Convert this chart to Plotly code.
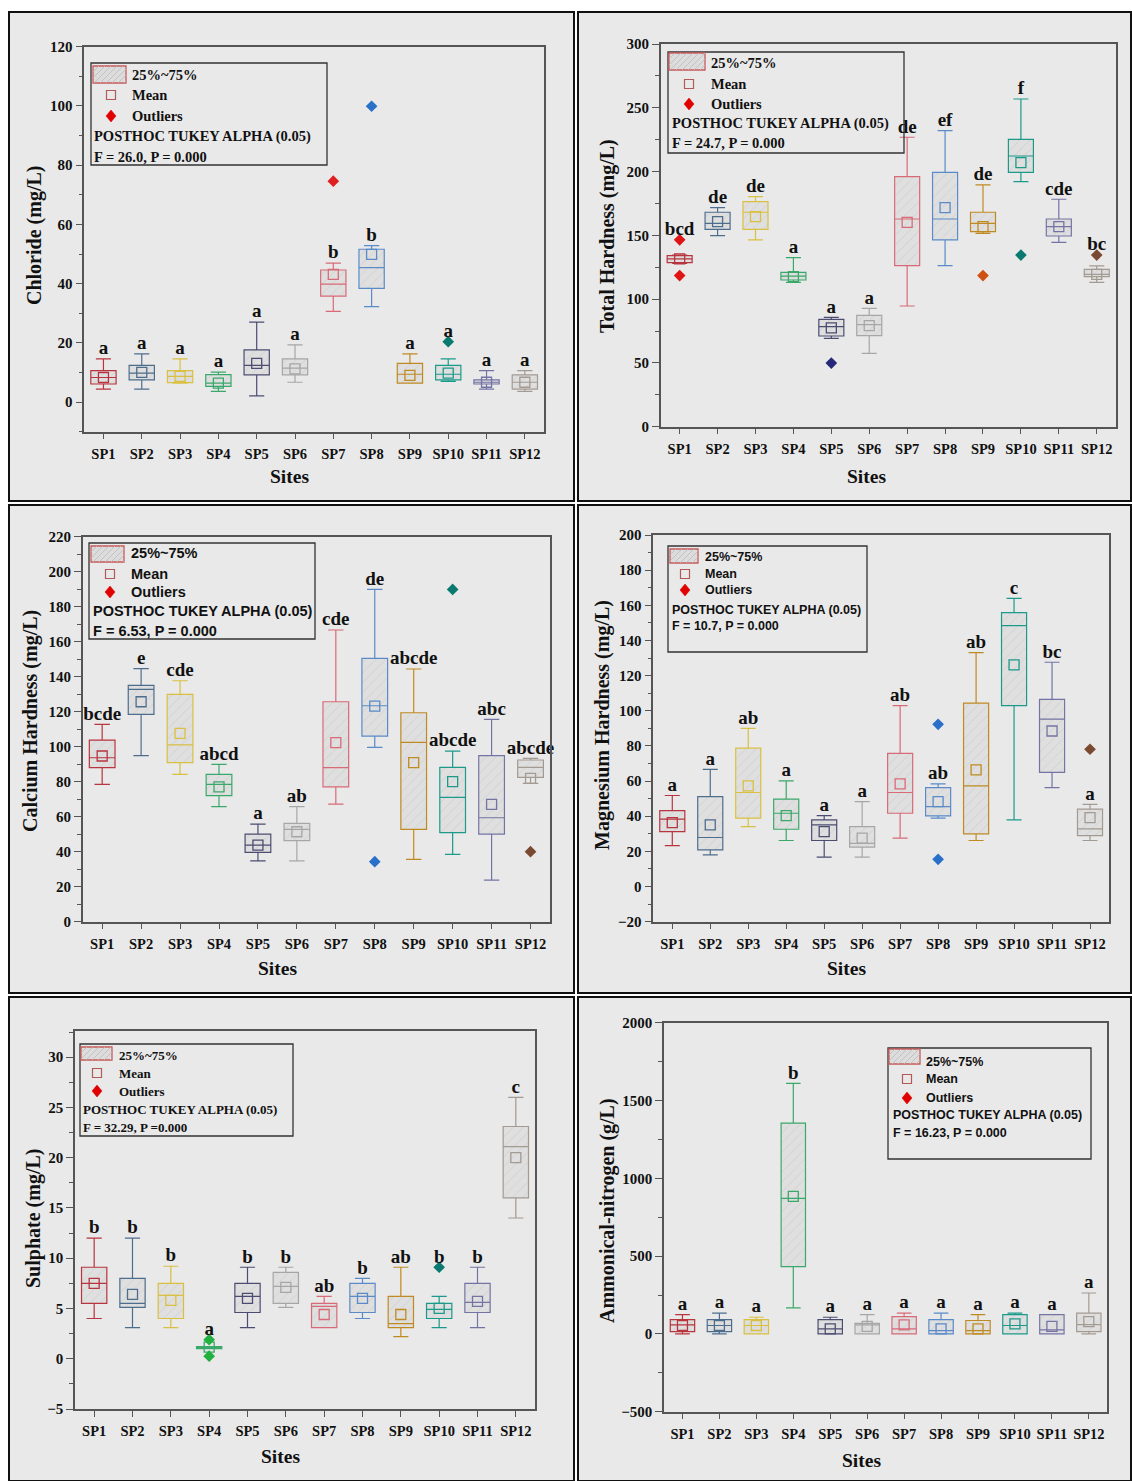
import plotly.graph_objects as go

W, H = 1132, 1481

sites = ["SP1", "SP2", "SP3", "SP4", "SP5", "SP6", "SP7", "SP8", "SP9", "SP10", "SP11", "SP12"]
box_colors = ["#b8343e", "#4d6d8c", "#d9c040", "#3aa86a", "#4c4c72", "#a6a6a6",
              "#d86a78", "#5a8ac8", "#c08a22", "#1b9a8a", "#7474a4", "#a39a92"]
outlier_colors = ["#e01414", "#3c6a8c", "#d9c040", "#22b040", "#26287a", "#a6a6a6",
                  "#e02020", "#2a70c8", "#d05010", "#0a7a70", "#6a6a9a", "#7a4a30"]

# ---------------- Chloride (mg/L) ----------------
cl_low = [4.4, 4.4, 6.4, 3.6, 2.1, 6.7, 30.6, 32.2, 6.4, 7.0, 4.4, 3.6]
cl_q1 = [6.1, 7.5, 6.6, 5.3, 9.2, 9.2, 35.8, 38.4, 6.4, 7.5, 6.1, 4.4]
cl_med = [8.3, 9.8, 8.7, 6.4, 12.4, 11.5, 39.8, 45.4, 9.4, 9.4, 6.7, 6.7]
cl_q3 = [10.6, 12.4, 10.6, 9.3, 17.6, 14.6, 44.6, 51.6, 13.1, 12.4, 7.5, 9.2]
cl_high = [14.6, 16.3, 14.6, 10.1, 27.0, 19.3, 46.9, 52.8, 16.3, 14.6, 10.6, 10.6]
cl_mean = [8.3, 10.0, 8.7, 6.4, 13.1, 11.2, 43.1, 49.9, 9.0, 9.8, 6.7, 6.7]
cl_letters = ["a", "a", "a", "a", "a", "a", "b", "b", "a", "a", "a", "a"]
cl_out_sites = ["SP7", "SP8", "SP10"]
cl_out_vals = [74.6, 99.9, 20.4]

# ---------------- Total Hardness (mg/L) ----------------
th_low = [128.0, 149.8, 146.4, 113.2, 69.3, 57.5, 94.6, 126.2, 151.6, 192.1, 144.5, 113.2]
th_q1 = [128.6, 154.7, 154.7, 115.0, 71.1, 71.4, 126.2, 146.4, 152.9, 199.4, 149.5, 117.6]
th_med = [131.5, 159.4, 168.1, 118.1, 78.4, 80.0, 162.8, 162.8, 159.4, 212.2, 156.8, 119.4]
th_q3 = [134.1, 168.1, 176.4, 121.0, 84.2, 87.3, 196.0, 199.4, 168.1, 225.3, 162.8, 123.4]
th_high = [134.6, 171.7, 180.3, 132.5, 85.7, 92.8, 226.9, 232.1, 189.5, 256.9, 178.3, 126.0]
th_mean = [131.5, 160.7, 164.7, 117.6, 77.5, 79.2, 160.2, 171.7, 156.8, 207.0, 156.8, 119.4]
th_letters = ["bcd", "de", "de", "a", "a", "a", "de", "ef", "de", "f", "cde", "bc"]
th_out_sites = ["SP1", "SP1", "SP5", "SP9", "SP10", "SP12"]
th_out_vals = [146.5, 118.5, 49.9, 118.5, 134.5, 134.5]

# ---------------- Calcium Hardness (mg/L) ----------------
ca_low = [78.5, 94.9, 84.2, 65.7, 34.7, 34.7, 67.2, 99.6, 35.6, 38.5, 23.8, 79.0]
ca_q1 = [88.0, 118.5, 90.9, 72.0, 39.6, 46.3, 77.1, 106.1, 52.8, 50.9, 50.1, 82.5]
ca_med = [93.7, 132.8, 101.0, 78.5, 43.8, 52.8, 88.0, 123.4, 102.5, 71.0, 59.4, 88.2]
ca_q3 = [103.8, 135.0, 129.9, 84.2, 50.1, 56.2, 125.7, 150.5, 119.4, 88.2, 94.9, 92.4]
ca_high = [112.8, 144.6, 137.7, 89.9, 55.8, 65.7, 166.7, 189.9, 144.4, 97.5, 115.6, 93.3]
ca_mean = [94.7, 125.7, 107.6, 77.1, 43.8, 51.4, 102.3, 123.2, 90.9, 80.0, 67.0, 81.9]
ca_letters = ["bcde", "e", "cde", "abcd", "a", "ab", "cde", "de", "abcde", "abcde", "abc", "abcde"]
ca_out_sites = ["SP8", "SP10", "SP12"]
ca_out_vals = [34.3, 189.9, 40.0]

# ---------------- Magnesium Hardness (mg/L) ----------------
mg_low = [23.3, 18.0, 34.1, 26.2, 16.7, 16.7, 27.5, 38.9, 26.2, 37.9, 56.3, 26.2]
mg_q1 = [31.3, 20.9, 38.9, 32.6, 26.2, 22.4, 41.7, 40.2, 30.0, 102.9, 65.0, 29.0]
mg_med = [38.3, 27.9, 53.5, 41.7, 35.1, 24.6, 53.5, 45.5, 57.3, 148.4, 95.2, 32.8]
mg_q3 = [43.2, 51.2, 78.7, 49.7, 37.9, 34.1, 75.8, 56.3, 104.3, 155.8, 106.5, 44.0]
mg_high = [51.8, 66.7, 90.0, 60.1, 40.4, 48.3, 102.9, 58.4, 133.1, 164.0, 127.6, 46.8]
mg_mean = [36.4, 35.1, 57.3, 40.4, 31.3, 27.5, 58.4, 48.3, 66.4, 126.1, 88.5, 39.2]
mg_letters = ["a", "a", "ab", "a", "a", "a", "ab", "ab", "ab", "c", "bc", "a"]
mg_out_sites = ["SP8", "SP8", "SP12"]
mg_out_vals = [92.3, 15.5, 78.1]

# ---------------- Sulphate (mg/L) ----------------
so_low = [4.0, 3.1, 3.1, 1.0, 3.1, 5.1, 3.1, 4.0, 2.2, 3.1, 3.1, 14.0]
so_q1 = [5.5, 5.1, 4.0, 1.0, 4.6, 5.5, 3.1, 4.6, 3.1, 4.0, 4.6, 16.0]
so_med = [7.5, 5.5, 6.3, 1.1, 6.2, 7.2, 5.2, 6.2, 3.5, 4.9, 5.6, 21.1]
so_q3 = [9.1, 8.0, 7.5, 1.2, 7.5, 8.6, 5.5, 7.5, 6.2, 5.5, 7.5, 23.1]
so_high = [12.0, 12.0, 9.2, 1.2, 9.1, 9.1, 6.2, 8.0, 9.1, 6.2, 9.1, 26.0]
so_mean = [7.5, 6.4, 5.8, 1.15, 6.0, 7.1, 4.4, 6.0, 4.4, 5.0, 5.7, 20.0]
so_letters = ["b", "b", "b", "a", "b", "b", "ab", "b", "ab", "b", "b", "c"]
so_out_sites = ["SP4", "SP4", "SP10"]
so_out_vals = [1.9, 0.25, 9.1]

# ---------------- Ammonical-nitrogen (g/L) ----------------
an_low = [0, 0, 0, 167, 0, 0, 0, 0, 0, 0, 0, 0]
an_q1 = [15, 15, 0, 432, 0, 0, 0, 0, 0, 0, 0, 15]
an_med = [58, 54, 54, 871, 32, 58, 32, 21, 21, 54, 26, 60]
an_q3 = [92, 92, 92, 1355, 92, 68, 111, 92, 86, 124, 124, 133]
an_high = [124, 133, 107, 1610, 107, 124, 133, 133, 124, 133, 124, 263]
an_mean = [54, 54, 54, 884, 32, 49, 58, 32, 32, 64, 49, 79]
an_letters = ["a", "a", "a", "b", "a", "a", "a", "a", "a", "a", "a", "a"]
an_out_sites = []
an_out_vals = []

SERIF = "Liberation Serif"
SANS = "Liberation Sans"

panels = [
    dict(d=(cl_low, cl_q1, cl_med, cl_q3, cl_high, cl_mean, cl_letters, cl_out_sites, cl_out_vals),
         frame=(9, 12, 574, 501), plot=(84.3, 46.7, 544, 431.7), yr=[-10, 120], dtick=20, minor=10,
         ytitle="Chloride (mg/L)", yt=(35, 236), st=(289, 476), F="F = 26.0, P = 0.000",
         leg=dict(box=(91, 63, 327, 165), sw=(93, 66, 126, 83), lx=130, rows=[75, 95, 116, 136, 157], mx=111, px=92,
                  font=SERIF, size=14.5)),
    dict(d=(th_low, th_q1, th_med, th_q3, th_high, th_mean, th_letters, th_out_sites, th_out_vals),
         frame=(578, 12, 1131, 501), plot=(660.7, 44, 1115.7, 426.7), yr=[0, 300], dtick=50, minor=25,
         ytitle="Total Hardness (mg/L)", yt=(608, 236), st=(866, 476), F="F = 24.7, P = 0.000",
         leg=dict(box=(668, 52, 904, 153), sw=(669, 53, 705, 70), lx=709, rows=[63, 84, 104, 123, 143], mx=689, px=670,
                  font=SERIF, size=14.5)),
    dict(d=(ca_low, ca_q1, ca_med, ca_q3, ca_high, ca_mean, ca_letters, ca_out_sites, ca_out_vals),
         frame=(9, 505, 574, 993), plot=(82.7, 536.7, 550, 921.7), yr=[0, 220], dtick=20, minor=10,
         ytitle="Calcium Hardness (mg/L)", yt=(30, 721), st=(277, 968), F="F = 6.53, P = 0.000",
         leg=dict(box=(89, 543, 315, 639), sw=(91, 546, 124, 562), lx=129, rows=[553, 574, 592, 611, 631], mx=110, px=91,
                  font=SANS, size=14.5)),
    dict(d=(mg_low, mg_q1, mg_med, mg_q3, mg_high, mg_mean, mg_letters, mg_out_sites, mg_out_vals),
         frame=(578, 505, 1131, 993), plot=(653.3, 535, 1109, 921.7), yr=[-20, 200], dtick=20, minor=10,
         ytitle="Magnesium Hardness (mg/L)", yt=(603, 725), st=(846, 968), F="F = 10.7, P = 0.000",
         leg=dict(box=(668, 546, 867, 652), sw=(670, 549, 698, 563), lx=703, rows=[557, 574, 590, 610, 626], mx=685, px=670,
                  font=SANS, size=12.5)),
    dict(d=(so_low, so_q1, so_med, so_q3, so_high, so_mean, so_letters, so_out_sites, so_out_vals),
         frame=(9, 997, 574, 1481), plot=(75, 1031, 535, 1409), yr=[-5, 32.6], dtick=5, minor=2.5,
         ytitle="Sulphate (mg/L)", yt=(33, 1219), st=(280, 1456), F="F = 32.29, P =0.000",
         leg=dict(box=(80, 1044, 293, 1136), sw=(81, 1047, 112, 1060), lx=117, rows=[1055, 1073, 1091, 1109, 1127], mx=97, px=81,
                  font=SERIF, size=13)),
    dict(d=(an_low, an_q1, an_med, an_q3, an_high, an_mean, an_letters, an_out_sites, an_out_vals),
         frame=(578, 997, 1131, 1481), plot=(664, 1022.7, 1107.3, 1411.7), yr=[-500, 2000], dtick=500, minor=250,
         ytitle="Ammonical-nitrogen (g/L)", yt=(607, 1211), st=(861, 1460), F="F = 16.23, P = 0.000",
         leg=dict(box=(888, 1048, 1091, 1159), sw=(889, 1049, 920, 1064), lx=924, rows=[1062, 1079, 1098, 1115, 1133], mx=907, px=891,
                  font=SANS, size=12.5)),
]


def fx(x):
    return x / W


def fy(y):
    return 1 - y / H


fig = go.Figure()
shapes = []
annotations = []
layout_axes = {}
BG = "#e9e9e9"
AX = "#555555"

for i, p in enumerate(panels):
    n = "" if i == 0 else str(i + 1)
    xa, ya = "x" + n, "y" + n
    low, q1, med, q3, high, mean, letters, osites, ovals = p["d"]

    # panel frame
    x0, y0, x1, y1 = p["frame"]
    shapes.append(dict(type="rect", xref="paper", yref="paper", x0=fx(x0), x1=fx(x1), y0=fy(y1), y1=fy(y0),
                       fillcolor=BG, line=dict(color="#111111", width=2), layer="below"))

    # hatched interquartile fill
    fig.add_trace(go.Bar(x=sites, y=[b - a for a, b in zip(q1, q3)], base=q1, width=0.66,
                         marker=dict(color="#dfdfdf", line=dict(width=0),
                                     pattern=dict(shape="/", fgcolor="#bcbcbc", size=7, solidity=0.12, fillmode="overlay")),
                         showlegend=False, hoverinfo="skip", xaxis=xa, yaxis=ya))
    # box outlines
    for k, s in enumerate(sites):
        fig.add_trace(go.Box(x=[s], q1=[q1[k]], median=[med[k]], q3=[q3[k]], lowerfence=[low[k]], upperfence=[high[k]],
                             width=0.66, whiskerwidth=0.6, boxpoints=False, fillcolor="rgba(0,0,0,0)",
                             line=dict(color=box_colors[k], width=1.2), showlegend=False, hoverinfo="skip",
                             xaxis=xa, yaxis=ya))
    # means
    fig.add_trace(go.Scatter(x=sites, y=mean, mode="markers",
                             marker=dict(symbol="square-open", size=10, color=box_colors, line=dict(width=1.3)),
                             showlegend=False, hoverinfo="skip", xaxis=xa, yaxis=ya))
    # outliers
    if osites:
        fig.add_trace(go.Scatter(x=osites, y=ovals, mode="markers",
                                 marker=dict(symbol="diamond", size=9,
                                             color=[outlier_colors[sites.index(s)] for s in osites]),
                                 showlegend=False, hoverinfo="skip", xaxis=xa, yaxis=ya))
    # significance letters
    span = p["yr"][1] - p["yr"][0]
    lpos = []
    for k, s in enumerate(sites):
        top = high[k]
        for os_, ov in zip(osites, ovals):
            if os_ == s and top < ov < top + 0.1 * span:
                top = ov
        lpos.append(top)
    fig.add_trace(go.Scatter(x=sites, y=lpos, mode="text", text=letters, textposition="top center",
                             textfont=dict(family=SERIF, size=19, color="#111111", weight="bold"),
                             showlegend=False, hoverinfo="skip", xaxis=xa, yaxis=ya, cliponaxis=False))

    px0, py0, px1, py1 = p["plot"]
    dom_x = [fx(px0), fx(px1)]
    dom_y = [fy(py1), fy(py0)]
    layout_axes["xaxis" + n] = dict(domain=dom_x, anchor=ya, type="category", range=[-0.5, 11.5],
                                    showline=True, linecolor=AX, linewidth=1.5, mirror=True, automargin=False,
                                    ticks="outside", ticklen=6, tickcolor=AX, showgrid=False, zeroline=False,
                                    ticklabelstandoff=2,
                                    tickfont=dict(family=SERIF, size=14.5, color="#111111", weight="bold"),
                                    fixedrange=True)
    layout_axes["yaxis" + n] = dict(domain=dom_y, anchor=xa, range=p["yr"], dtick=p["dtick"], automargin=False,
                                    tick0=0, showline=True, linecolor=AX, linewidth=1.5, mirror=True,
                                    ticks="outside", ticklen=7, tickcolor=AX, showgrid=False, zeroline=False,
                                    minor=dict(ticks="outside", ticklen=4, dtick=p["minor"], tick0=0, tickcolor=AX),
                                    tickfont=dict(family=SERIF, size=15, color="#111111", weight="bold"),
                                    fixedrange=True)
    # inward ticks on the top and right frame edges
    tn, rn = str(7 + i), str(13 + i)
    layout_axes["xaxis" + tn] = dict(overlaying=xa, anchor=ya, side="top", range=[-0.5, 11.5], automargin=False,
                                     tickvals=list(range(len(sites))), showticklabels=False, showline=False,
                                     ticks="inside", ticklen=6, tickcolor=AX, showgrid=False, zeroline=False,
                                     fixedrange=True)
    layout_axes["yaxis" + rn] = dict(overlaying=ya, anchor=xa, side="right", range=p["yr"], dtick=p["dtick"],
                                     tick0=0, showticklabels=False, showline=False, ticks="inside", ticklen=6,
                                     automargin=False, tickcolor=AX, showgrid=False, zeroline=False, fixedrange=True)

    # axis titles
    tx, ty = p["yt"]
    annotations.append(dict(xref="paper", yref="paper", x=fx(tx), y=fy(ty), text="<b>" + p["ytitle"] + "</b>",
                            textangle=-90, showarrow=False, xanchor="center", yanchor="middle",
                            font=dict(family=SERIF, size=20, color="#111111")))
    sx, sy = p["st"]
    annotations.append(dict(xref="paper", yref="paper", x=fx(sx), y=fy(sy), text="<b>Sites</b>",
                            showarrow=False, xanchor="center", yanchor="middle",
                            font=dict(family=SERIF, size=19.5, color="#111111")))

    # legend box
    L = p["leg"]
    bx0, by0, bx1, by1 = L["box"]
    shapes.append(dict(type="rect", xref="paper", yref="paper", x0=fx(bx0), x1=fx(bx1), y0=fy(by1), y1=fy(by0),
                       line=dict(color="#333333", width=1.3), fillcolor="rgba(0,0,0,0)", layer="above"))
    sx0, sy0, sx1, sy1 = L["sw"]
    shapes.append(dict(type="rect", xref="paper", yref="paper", x0=fx(sx0), x1=fx(sx1), y0=fy(sy1), y1=fy(sy0),
                       line=dict(color="#c85a5a", width=1.3), fillcolor="#dcdcdc", layer="above"))
    # hatch lines in swatch
    step = 6
    xs = sx0 - (sy1 - sy0)
    while xs < sx1:
        ax0, ay0 = xs, sy1
        ax1, ay1 = xs + (sy1 - sy0), sy0
        if ax0 < sx0:
            ay0 = sy1 - (sx0 - ax0)
            ax0 = sx0
        if ax1 > sx1:
            ay1 = sy0 + (ax1 - sx1)
            ax1 = sx1
        shapes.append(dict(type="line", xref="paper", yref="paper", x0=fx(ax0), y0=fy(ay0), x1=fx(ax1), y1=fy(ay1),
                           line=dict(color="#bdbdbd", width=0.8), layer="above"))
        xs += step
    mx = L["mx"]
    r = L["rows"]
    shapes.append(dict(type="rect", xref="paper", yref="paper", x0=fx(mx - 4.5), x1=fx(mx + 4.5),
                       y0=fy(r[1] + 4.5), y1=fy(r[1] - 4.5), line=dict(color="#b25a5a", width=1.2),
                       fillcolor="rgba(0,0,0,0)", layer="above"))
    shapes.append(dict(type="path", xref="paper", yref="paper",
                       path="M {} {} L {} {} L {} {} L {} {} Z".format(fx(mx), fy(r[2] - 6), fx(mx + 5), fy(r[2]),
                                                                     fx(mx), fy(r[2] + 6), fx(mx - 5), fy(r[2])),
                       line=dict(color="#e00000", width=0.5), fillcolor="#e00000", layer="above"))
    lf = dict(family=L["font"], size=L["size"], color="#111111")
    for txt, xx, yy in [("25%~75%", L["lx"], r[0]), ("Mean", L["lx"], r[1]), ("Outliers", L["lx"], r[2]),
                        ("POSTHOC TUKEY ALPHA (0.05)", L["px"], r[3]), (p["F"], L["px"], r[4])]:
        annotations.append(dict(xref="paper", yref="paper", x=fx(xx), y=fy(yy), text="<b>" + txt + "</b>",
                                showarrow=False, xanchor="left", yanchor="middle", font=lf))

fig.update_layout(width=W, height=H, autosize=False,
                  margin=dict(l=0, r=0, t=0, b=0, pad=0, autoexpand=False), paper_bgcolor="white",
                  plot_bgcolor="rgba(0,0,0,0)", barmode="overlay", boxmode="overlay",
                  shapes=shapes, annotations=annotations, showlegend=False, **layout_axes)

fig.write_html("out.html", config=dict(displayModeBar=False, responsive=False),
               post_script="document.body.style.margin='0';document.body.style.padding='0';"
                           "document.documentElement.style.overflow='hidden';")
